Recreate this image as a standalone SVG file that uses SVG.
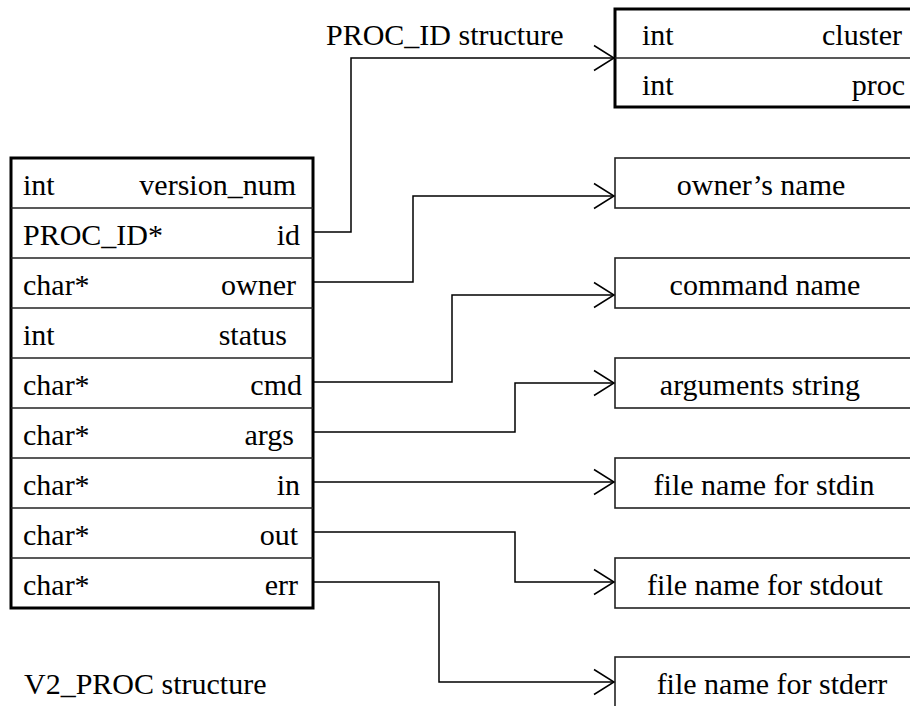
<svg xmlns="http://www.w3.org/2000/svg" width="910" height="706" viewBox="0 0 910 706">
<defs>
<style>
text{font-family:"Liberation Serif","Times New Roman",serif;font-size:30px;fill:#000}
.e{text-anchor:end}
.m{text-anchor:middle}
.thick{fill:#fff;stroke:#000;stroke-width:3}
.thin{fill:#fff;stroke:#222;stroke-width:1.6}
.div{stroke:#222;stroke-width:1.5}
.c{fill:none;stroke:#000;stroke-width:1.5;marker-end:url(#arr)}
</style>
<marker id="arr" markerUnits="userSpaceOnUse" markerWidth="24" markerHeight="28" refX="21" refY="13" orient="auto" overflow="visible">
<path d="M1,0.5 L21,13 L1,25.5" fill="none" stroke="#000" stroke-width="1.5"/>
</marker>
</defs>
<rect width="910" height="706" fill="#fff"/>

<g id="v2_proc">
<rect class="thick" x="11" y="158" width="302" height="450"/>
<line class="div" x1="11" y1="208" x2="313" y2="208"/>
<line class="div" x1="11" y1="258" x2="313" y2="258"/>
<line class="div" x1="11" y1="308" x2="313" y2="308"/>
<line class="div" x1="11" y1="358" x2="313" y2="358"/>
<line class="div" x1="11" y1="408" x2="313" y2="408"/>
<line class="div" x1="11" y1="458" x2="313" y2="458"/>
<line class="div" x1="11" y1="508" x2="313" y2="508"/>
<line class="div" x1="11" y1="558" x2="313" y2="558"/>
<text x="23" y="195">int</text><text class="e" x="296" y="195">version_num</text>
<text x="23" y="245">PROC_ID*</text><text class="e" x="300" y="245">id</text>
<text x="23" y="295">char*</text><text class="e" x="296" y="295">owner</text>
<text x="23" y="345">int</text><text class="e" x="287" y="345">status</text>
<text x="23" y="395">char*</text><text class="e" x="302" y="395">cmd</text>
<text x="23" y="445">char*</text><text class="e" x="294" y="445">args</text>
<text x="23" y="495">char*</text><text class="e" x="300" y="495">in</text>
<text x="23" y="545">char*</text><text class="e" x="298" y="545">out</text>
<text x="23" y="595">char*</text><text class="e" x="298" y="595">err</text>
<text x="24" y="694">V2_PROC structure</text>
</g>

<g id="proc_id">
<rect class="thick" x="615" y="9" width="310" height="98"/>
<line class="div" x1="615" y1="58" x2="910" y2="58"/>
<text x="642" y="45">int</text><text class="e" x="902" y="45">cluster</text>
<text x="642" y="95">int</text><text class="e" x="905" y="95">proc</text>
<text x="326" y="45">PROC_ID structure</text>
</g>

<g id="owner_name"><rect class="thin" x="615" y="158" width="300" height="50"/><text class="m" x="761" y="195">owner’s name</text></g>
<g id="command_name"><rect class="thin" x="615" y="258" width="300" height="50"/><text class="m" x="765" y="295">command name</text></g>
<g id="arguments_string"><rect class="thin" x="615" y="358" width="300" height="50"/><text class="m" x="760" y="395">arguments string</text></g>
<g id="stdin_name"><rect class="thin" x="615" y="458" width="300" height="50"/><text class="m" x="764" y="495">file name for stdin</text></g>
<g id="stdout_name"><rect class="thin" x="615" y="558" width="300" height="50"/><text class="m" x="765" y="595">file name for stdout</text></g>
<g id="stderr_name"><rect class="thin" x="615" y="657" width="300" height="60"/><text class="m" x="772" y="694">file name for stderr</text></g>

<g id="connectors">
<path class="c" d="M313,232 H351 V58 H614"/>
<path class="c" d="M313,282 H413 V196 H614"/>
<path class="c" d="M313,382 H452 V295 H614"/>
<path class="c" d="M313,432 H515 V383 H614"/>
<path class="c" d="M313,482 H614"/>
<path class="c" d="M313,532 H515 V582 H614"/>
<path class="c" d="M313,582 H439 V682 H614"/>
</g>
</svg>
